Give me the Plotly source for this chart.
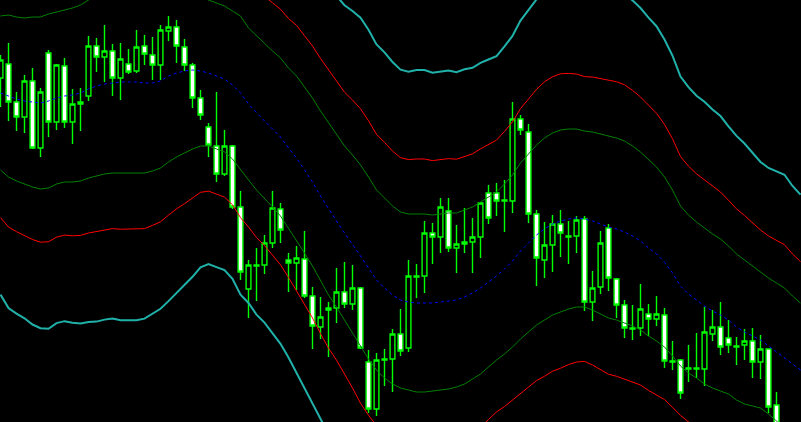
import plotly.graph_objects as go

# ---- candle data (price units) ----
bar_index = list(range(98))
open_ = [922, 936, 898, 883, 919, 852, 947, 878, 934, 878,
         896, 904, 954, 943, 949, 922, 936, 929, 954, 945,
         935, 969, 973, 953, 935, 902, 873, 854, 826, 854,
         793, 711, 734, 735, 757, 791, 740, 737, 741, 704,
         673, 690, 692, 708, 696, 712, 638, 591, 640, 641,
         666, 652, 723, 724, 767, 763, 789, 752, 756, 758,
         763, 807, 807, 799, 799, 881, 868, 786, 740, 755,
         776, 763, 764, 781, 698, 713, 772, 721, 695, 672,
         672, 686, 681, 685, 639, 640, 632, 632, 631, 666,
         673, 662, 654, 655, 659, 638, 651, 595]
high = [945, 957, 908, 925, 932, 912, 950, 936, 942, 911,
        912, 964, 962, 975, 956, 957, 951, 970, 965, 963,
        975, 984, 980, 961, 937, 910, 877, 908, 870, 855,
        809, 740, 752, 765, 809, 797, 747, 754, 769, 713,
        703, 698, 732, 738, 735, 713, 650, 647, 651, 671,
        691, 740, 736, 779, 777, 802, 802, 775, 792, 782,
        798, 815, 817, 820, 898, 885, 876, 790, 778, 785,
        790, 779, 784, 784, 729, 769, 776, 722, 700, 695,
        716, 696, 704, 692, 659, 641, 655, 667, 693, 690,
        698, 680, 663, 671, 672, 665, 651, 608]
low = [893, 879, 869, 867, 851, 843, 863, 870, 872, 856,
       869, 899, 928, 918, 904, 900, 926, 927, 935, 920,
       920, 959, 937, 929, 892, 880, 843, 818, 824, 791,
       720, 682, 699, 726, 752, 757, 708, 710, 702, 651,
       661, 643, 677, 692, 690, 651, 587, 584, 614, 608,
       644, 648, 702, 707, 736, 747, 748, 727, 747, 727,
       742, 776, 784, 768, 787, 865, 777, 714, 722, 728,
       743, 736, 747, 689, 679, 706, 709, 682, 662, 660,
       664, 664, 674, 632, 630, 601, 618, 622, 614, 659,
       645, 647, 635, 640, 622, 621, 587, 570]
close = [940, 898, 883, 919, 852, 908, 878, 935, 878, 896,
         898, 954, 943, 949, 922, 941, 928, 953, 946, 935,
         970, 973, 954, 935, 902, 885, 855, 826, 854, 793,
         728, 735, 735, 757, 792, 770, 737, 742, 704, 674,
         683, 692, 708, 696, 712, 652, 591, 640, 641, 666,
         649, 724, 724, 767, 763, 793, 752, 756, 758, 763,
         797, 782, 799, 800, 881, 870, 786, 742, 755, 776,
         767, 764, 780, 698, 712, 757, 722, 695, 672, 671,
         691, 681, 686, 639, 638, 607, 631, 631, 668, 673,
         653, 655, 653, 659, 638, 651, 593, 575]

# ---- Fibonacci Bollinger bands ----
line_index = list(range(101))
ma = [907, 904, 901, 899, 898, 897, 899, 902, 904, 905,
      907, 911, 914, 916, 917, 918, 918, 918, 917, 917,
      919, 924, 927, 929, 930, 929, 927, 924, 921, 915,
      907, 896, 887, 879, 871, 863, 852, 842, 830, 818,
      804, 791, 779, 767, 756, 744, 732, 720, 712, 705,
      700, 698, 697, 697, 697, 698, 699, 700, 703, 707,
      712, 718, 724, 731, 739, 749, 757, 765, 771, 776,
      779, 781, 782, 781, 779, 776, 773, 771, 768, 764,
      759, 752, 746, 738, 727, 714, 706, 700, 694, 689,
      685, 680, 673, 668, 664, 660, 654, 648, 642, 636,
      630]
band_dev = [77, 81, 82, 83, 85, 86, 87, 86, 86, 87,
            88, 89, 90, 90, 90, 91, 91, 91, 90, 88,
            87, 86, 84, 82, 79, 75, 73, 73, 73, 74,
            77, 76, 77, 77, 78, 79, 80, 82, 83, 84,
            85, 86, 86, 87, 89, 91, 91, 90, 90, 89,
            88, 88, 89, 89, 88, 88, 88, 87, 87, 86,
            86, 85, 84, 85, 86, 88, 89, 90, 91, 91,
            91, 90, 89, 88, 89, 90, 91, 91, 91, 90,
            89, 88, 87, 85, 83, 80, 79, 78, 78, 77,
            76, 74, 73, 72, 70, 68, 68, 69, 70, 68,
            67]
fib_levels = [1.0, 1.618, 2.618]
band_colors = ["#008000", "#FF0000", "#20B2AA"]
band_widths = [1, 1, 2]

fig = go.Figure()
fig.add_trace(go.Candlestick(
    x=bar_index, open=open_, high=high, low=low, close=close,
    increasing=dict(line=dict(color="#00FF00", width=1.4), fillcolor="#000000"),
    decreasing=dict(line=dict(color="#00FF00", width=1.4), fillcolor="#FFFFFF"),
    whiskerwidth=0, hoverinfo="skip", showlegend=False))

for lvl, col, w in zip(fib_levels, band_colors, band_widths):
    up = [m + lvl * d for m, d in zip(ma, band_dev)]
    dn = [m - lvl * d for m, d in zip(ma, band_dev)]
    for ys in (up, dn):
        fig.add_trace(go.Scatter(x=line_index, y=ys, mode="lines",
                                 line=dict(color=col, width=w),
                                 hoverinfo="skip", showlegend=False))

fig.add_trace(go.Scatter(x=line_index, y=ma, mode="lines",
                         line=dict(color="#0000FF", width=1, dash="dot"),
                         hoverinfo="skip", showlegend=False))

fig.update_layout(
    width=801, height=422,
    margin=dict(l=0, r=0, t=0, b=0),
    paper_bgcolor="#000000", plot_bgcolor="#000000",
    showlegend=False,
    boxgap=0.4, boxgroupgap=0,
    xaxis=dict(range=[-0.0625, 100.0625], visible=False,
               rangeslider=dict(visible=False), fixedrange=True),
    yaxis=dict(range=[578, 1000], visible=False, fixedrange=True),
)

fig.write_html("out.html", config={"displayModeBar": False},
               post_script="document.body.style.margin='0';"
                           "document.body.style.background='#000';")
